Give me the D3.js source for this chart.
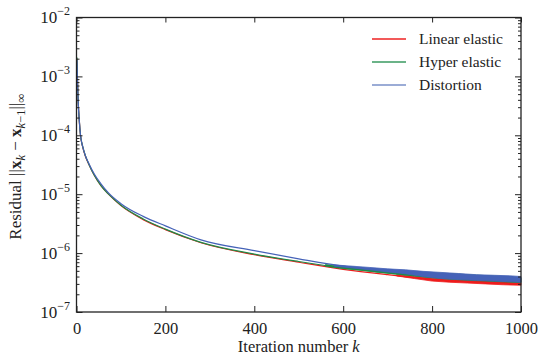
<!DOCTYPE html>
<html>
<head>
<meta charset="utf-8">
<script src="https://cdn.jsdelivr.net/npm/d3@7"></script>
<style>
body { margin: 0; background: #fff; }
text { font-family: "Liberation Serif", "DejaVu Serif", serif; fill: #222; }
</style>
</head>
<body>
<div id="chart-area"></div>
<script>
var iterations = [1, 2, 3, 4, 6, 9, 14, 20, 28, 40, 55, 72, 100, 150, 200, 280, 400, 500, 600, 700, 800, 900, 1000];
var linearElastic = [2.0e-3, 1.0e-3, 5.5e-4, 3.5e-4, 1.9e-4, 1.0e-4, 6.3e-5, 4.4e-5, 3.2e-5, 2.1e-5, 1.4e-5, 1.0e-5, 6.4e-6, 3.7e-6, 2.5e-6, 1.5e-6, 9.4e-7, 7.0e-7, 5.3e-7, 4.3e-7, 3.6e-7, 3.25e-7, 3.0e-7];
var hyperElastic = [2.1e-3, 1.0e-3, 5.6e-4, 3.5e-4, 1.9e-4, 1.0e-4, 6.4e-5, 4.5e-5, 3.2e-5, 2.1e-5, 1.4e-5, 1.0e-5, 6.5e-6, 3.8e-6, 2.55e-6, 1.52e-6, 9.6e-7, 7.2e-7, 5.6e-7, 4.6e-7, 3.9e-7, 3.6e-7, 3.4e-7];
var distortion = [1.9e-3, 9.5e-4, 5.4e-4, 3.4e-4, 1.9e-4, 1.0e-4, 6.4e-5, 4.5e-5, 3.3e-5, 2.2e-5, 1.5e-5, 1.05e-5, 6.9e-6, 4.2e-6, 2.9e-6, 1.68e-6, 1.1e-6, 8.0e-7, 6.0e-7, 5.0e-7, 4.1e-7, 3.8e-7, 3.6e-7];

// noisy tail: [k, low, high] envelopes
var linearNoise = [[720, 4.1e-7, 4.3e-7], [760, 3.7e-7, 4.0e-7], [800, 3.35e-7, 3.75e-7], [840, 3.2e-7, 3.55e-7], [880, 3.1e-7, 3.45e-7], [920, 3.0e-7, 3.35e-7], [960, 2.9e-7, 3.25e-7], [1000, 2.85e-7, 3.15e-7]];
var hyperNoise = [[560, 6.0e-7, 6.4e-7], [600, 5.45e-7, 6.0e-7], [640, 5.1e-7, 5.6e-7], [680, 4.7e-7, 5.3e-7], [720, 4.4e-7, 5.0e-7], [760, 4.1e-7, 4.8e-7], [800, 3.8e-7, 4.6e-7], [840, 3.6e-7, 4.5e-7], [880, 3.45e-7, 4.3e-7], [920, 3.35e-7, 4.15e-7], [960, 3.25e-7, 4.0e-7], [1000, 3.15e-7, 3.8e-7]];
var distortionNoise = [[580, 6.0e-7, 6.3e-7], [620, 5.6e-7, 6.0e-7], [660, 5.2e-7, 5.7e-7], [700, 4.8e-7, 5.4e-7], [740, 4.45e-7, 5.2e-7], [780, 4.0e-7, 4.9e-7], [820, 3.7e-7, 4.7e-7], [860, 3.55e-7, 4.5e-7], [900, 3.45e-7, 4.3e-7], [940, 3.35e-7, 4.2e-7], [980, 3.25e-7, 4.1e-7], [1000, 3.2e-7, 4.0e-7]];

var seriesNames = ["Linear elastic", "Hyper elastic", "Distortion"];
var xTicks = [0, 200, 400, 600, 800, 1000];
var yExponents = [-2, -3, -4, -5, -6, -7];

var colors = ["#ee1c1c", "#1f8a45", "#4562b8"];
var legendColors = ["#ee2222", "#3a9a60", "#7a90c8"];

var width = 543, height = 355;
var plotLeft = 76.5, plotRight = 521, plotTop = 17.5, plotBottom = 312;

var svg = d3.select("#chart-area").append("svg")
    .attr("width", width)
    .attr("height", height);

var x = d3.scaleLinear().domain([0, 1000]).range([plotLeft, plotRight]);
var y = d3.scaleLog().domain([1e-7, 1e-2]).range([plotBottom, plotTop]);

// minor tick values
var minorTicks = [];
for (var e = -7; e < -2; e++) {
    for (var m = 2; m <= 9; m++) {
        minorTicks.push(m * Math.pow(10, e));
    }
}

// data lines
var line = d3.line()
    .x(function(d){ return x(d[0]); })
    .y(function(d){ return y(d[1]); })
    .curve(d3.curveMonotoneX);

var band = d3.area()
    .x(function(d){ return x(d[0]); })
    .y0(function(d){ return y(d[1]); })
    .y1(function(d){ return y(d[2]); });

var allSeries = [linearElastic, hyperElastic, distortion];
var allNoise = [linearNoise, hyperNoise, distortionNoise];

var plot = svg.append("g");
allSeries.forEach(function(values, i){
    var pts = iterations.map(function(k, j){ return [k, values[j]]; });
    plot.append("path")
        .datum(pts)
        .attr("d", line)
        .attr("fill", "none")
        .attr("stroke", colors[i])
        .attr("stroke-width", 1.2);
    plot.append("path")
        .datum(allNoise[i])
        .attr("d", band)
        .attr("fill", colors[i])
        .attr("stroke", colors[i])
        .attr("stroke-width", 0.8);
});

// axes (ticks point inward)
svg.append("g")
    .attr("transform", "translate(0," + plotBottom + ")")
    .call(d3.axisBottom(x).tickValues(xTicks).tickSize(-6).tickPadding(10).tickFormat(d3.format("d")))
    .call(function(g){
        g.select(".domain").remove();
        g.selectAll("text").attr("font-size", 16.5).attr("font-family", "Liberation Serif").attr("fill", "#222");
        g.selectAll("line").attr("stroke", "#222");
    });

svg.append("g")
    .attr("transform", "translate(0," + plotTop + ")")
    .call(d3.axisTop(x).tickValues(xTicks).tickSize(-5).tickFormat(""))
    .call(function(g){ g.select(".domain").remove(); g.selectAll("line").attr("stroke", "#222"); });

[[plotLeft, d3.axisLeft], [plotRight, d3.axisRight]].forEach(function(a){
    var major = a[1](y).tickValues(yExponents.map(function(p){ return Math.pow(10, p); })).tickSize(-6).tickFormat("");
    var minor = a[1](y).tickValues(minorTicks).tickSize(-3).tickFormat("");
    svg.append("g").attr("transform", "translate(" + a[0] + ",0)").call(major)
        .call(function(g){ g.select(".domain").remove(); g.selectAll("line").attr("stroke", "#222"); });
    svg.append("g").attr("transform", "translate(" + a[0] + ",0)").call(minor)
        .call(function(g){ g.select(".domain").remove(); g.selectAll("line").attr("stroke", "#222"); });
});

// frame
svg.append("rect")
    .attr("x", plotLeft).attr("y", plotTop)
    .attr("width", plotRight - plotLeft).attr("height", plotBottom - plotTop)
    .attr("fill", "none").attr("stroke", "#222").attr("stroke-width", 1.3);

// y tick labels 10^n
yExponents.forEach(function(p){
    var t = svg.append("text")
        .attr("x", 70)
        .attr("y", y(Math.pow(10, p)) + 5.5)
        .attr("text-anchor", "end")
        .attr("font-size", 17);
    t.append("tspan").text("10");
    t.append("tspan").attr("dy", -8).attr("font-size", 12).text("\u2212" + Math.abs(p));
});

// x label
var xl = svg.append("text")
    .attr("x", (plotLeft + plotRight) / 2)
    .attr("y", 352)
    .attr("text-anchor", "middle")
    .attr("font-size", 16.5);
xl.append("tspan").text("Iteration number ");
xl.append("tspan").attr("font-style", "italic").text("k");

// y label
var yl = svg.append("text")
    .attr("transform", "translate(21," + ((plotTop + plotBottom) / 2 + 2) + ") rotate(-90)")
    .attr("text-anchor", "middle")
    .attr("font-size", 17);
yl.append("tspan").text("Residual ||");
yl.append("tspan").attr("font-weight", "bold").text("x");
yl.append("tspan").attr("font-style", "italic").attr("font-size", 12.5).attr("dy", 3.5).text("k");
yl.append("tspan").attr("dy", -3.5).text(" \u2212 ");
yl.append("tspan").attr("font-weight", "bold").text("x");
yl.append("tspan").attr("font-size", 12.5).attr("dy", 3.5).html("<tspan font-style='italic'>k</tspan>\u22121");
yl.append("tspan").attr("dy", -3.5).text("||");
yl.append("tspan").attr("font-size", 12.5).attr("dy", 3.5).text("\u221e");

// legend
var legend = svg.append("g");
seriesNames.forEach(function(name, i){
    var ly = 39 + i * 23;
    legend.append("line")
        .attr("x1", 372).attr("x2", 406)
        .attr("y1", ly).attr("y2", ly)
        .attr("stroke", legendColors[i]).attr("stroke-width", 1.4);
    legend.append("text")
        .attr("x", 419).attr("y", ly + 5)
        .attr("font-size", 15.5)
        .text(name);
});
</script>
</body>
</html>
